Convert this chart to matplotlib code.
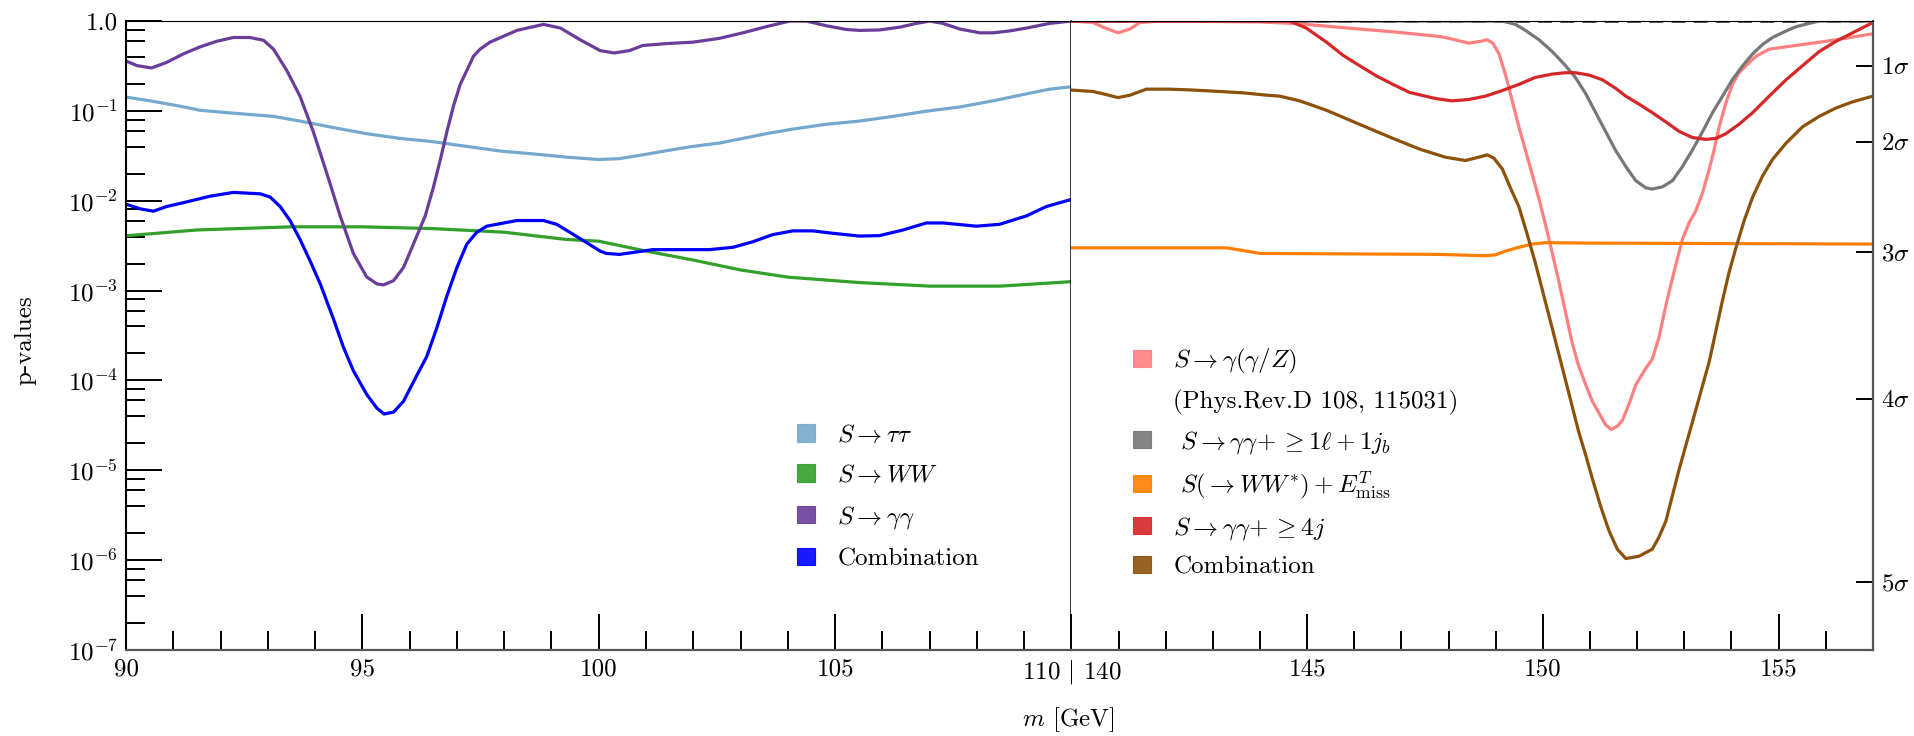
import numpy as np
import matplotlib
matplotlib.use("Agg")
import matplotlib.pyplot as plt
from matplotlib.patches import Patch
from matplotlib.ticker import LogLocator, NullLocator

plt.rcParams["font.family"] = "serif"
plt.rcParams["font.serif"] = ["cmr10"]
plt.rcParams["mathtext.fontset"] = "cm"
plt.rcParams["axes.unicode_minus"] = False
plt.rcParams["axes.formatter.use_mathtext"] = True

# values are log10(p-value)

# ---- low-mass window (90-110 GeV) ----
tautau_m = [90.0, 90.51, 91.07, 91.57, 92.13, 92.62, 93.12, 93.68, 94.39, 95.09, 95.80,
            96.50, 97.21, 97.92, 98.62, 99.33, 100.0, 100.44, 100.93, 101.50, 101.99,
            102.55, 103.05, 103.54, 104.11, 104.81, 105.52, 106.22, 106.93, 107.64, 108.34,
            109.05, 109.54, 110.0]
tautau_lp = [-0.846, -0.888, -0.940, -0.993, -1.019, -1.040, -1.061, -1.113, -1.186, -1.254,
             -1.306, -1.343, -1.395, -1.447, -1.479, -1.515, -1.541, -1.531, -1.489, -1.437,
             -1.395, -1.358, -1.306, -1.254, -1.202, -1.149, -1.113, -1.061, -1.003, -0.956,
             -0.888, -0.810, -0.758, -0.731]

ww_m = [90.0, 91.5, 93.5, 95.0, 96.5, 98.0, 99.3, 100.0, 101.0, 102.0, 103.0, 104.0,
        105.5, 107.0, 108.5, 110.0]
ww_lp = [-2.39, -2.325, -2.29, -2.29, -2.31, -2.35, -2.43, -2.45, -2.56, -2.66, -2.77,
         -2.85, -2.91, -2.95, -2.95, -2.90]

gg_m = [90.00, 90.23, 90.54, 90.86, 91.21, 91.57, 91.92, 92.27, 92.62, 92.91, 93.12, 93.40,
        93.68, 93.96, 94.25, 94.53, 94.81, 95.09, 95.31, 95.45, 95.66, 95.87, 96.08, 96.33,
        96.50, 96.65, 96.79, 96.93, 97.07, 97.21, 97.35, 97.49, 97.70, 98.27, 98.83, 99.19,
        99.61, 100.03, 100.33, 100.65, 100.93, 101.43, 101.99, 102.55, 103.05, 103.54,
        104.04, 104.39, 104.81, 105.24, 105.52, 105.94, 106.37, 106.72, 107.0, 107.28,
        107.64, 108.06, 108.34, 108.69, 109.05, 109.54, 110.0]
gg_lp = [-0.444, -0.496, -0.522, -0.460, -0.366, -0.287, -0.225, -0.183, -0.183, -0.214,
         -0.313, -0.549, -0.836, -1.228, -1.698, -2.168, -2.586, -2.847, -2.926, -2.936,
         -2.889, -2.743, -2.482, -2.168, -1.855, -1.541, -1.228, -0.940, -0.705, -0.549,
         -0.392, -0.313, -0.235, -0.104, -0.037, -0.078, -0.209, -0.329, -0.355, -0.329,
         -0.272, -0.251, -0.235, -0.193, -0.131, -0.063, 0.0, 0.0, -0.052, -0.094, -0.104,
         -0.099, -0.068, -0.026, 0.0, -0.026, -0.089, -0.131, -0.131, -0.110, -0.078,
         -0.026, 0.0]

comb_lo_m = [90.00, 90.30, 90.58, 90.86, 91.21, 91.78, 92.27, 92.84, 93.05, 93.26, 93.47,
             93.68, 93.89, 94.11, 94.39, 94.60, 94.81, 95.09, 95.31, 95.46, 95.66, 95.87,
             96.15, 96.36, 96.57, 96.79, 97.00, 97.21, 97.42, 97.63, 98.27, 98.83, 99.11,
             99.47, 100.03, 100.16, 100.44, 100.79, 101.14, 102.34, 102.84, 103.26, 103.68,
             104.11, 104.53, 104.95, 105.52, 105.94, 106.44, 106.93, 107.28, 107.99, 108.48,
             109.05, 109.47, 110.0]
comb_lo_lp = [-2.038, -2.090, -2.116, -2.064, -2.022, -1.949, -1.907, -1.923, -1.959,
              -2.064, -2.220, -2.429, -2.665, -2.926, -3.318, -3.631, -3.892, -4.154, -4.310,
              -4.373, -4.352, -4.232, -3.945, -3.736, -3.422, -3.056, -2.743, -2.482, -2.351,
              -2.283, -2.220, -2.220, -2.262, -2.377, -2.560, -2.586, -2.597, -2.571, -2.544,
              -2.544, -2.518, -2.456, -2.377, -2.335, -2.335, -2.362, -2.393, -2.388, -2.325,
              -2.247, -2.247, -2.283, -2.262, -2.168, -2.064, -1.985]

# ---- high-mass window (140-157 GeV) ----
gz_m = [140.0, 140.46, 140.67, 140.99, 141.24, 141.45, 141.88, 143.99, 144.70, 145.41,
        146.11, 146.82, 147.81, 147.93, 148.43, 148.68, 148.82, 148.94, 149.07, 149.21,
        149.35, 149.49, 149.63, 149.77, 149.92, 150.06, 150.20, 150.34, 150.48, 150.62,
        150.76, 150.91, 151.05, 151.19, 151.33, 151.45, 151.58, 151.69, 151.83, 151.97,
        152.15, 152.32, 152.46, 152.61, 152.78, 152.96, 153.10, 153.24, 153.39, 153.53,
        153.63, 153.74, 153.88, 154.02, 154.16, 154.31, 154.52, 154.80, 155.51, 156.22, 157.0]
gz_lp = [0.0, -0.016, -0.068, -0.131, -0.089, -0.016, 0.0, -0.010, -0.026, -0.057, -0.089,
         -0.120, -0.172, -0.183, -0.246, -0.225, -0.209, -0.246, -0.366, -0.601, -0.888,
         -1.176, -1.437, -1.698, -1.985, -2.273, -2.586, -2.900, -3.239, -3.579, -3.840,
         -4.049, -4.232, -4.363, -4.493, -4.545, -4.509, -4.441, -4.258, -4.049, -3.892,
         -3.762, -3.527, -3.161, -2.795, -2.429, -2.247, -2.116, -1.907, -1.646, -1.437,
         -1.176, -0.914, -0.705, -0.575, -0.496, -0.392, -0.313, -0.261, -0.209, -0.141]

lb_m = [140.0, 149.14, 149.42, 149.63, 149.92, 150.20, 150.48, 150.69, 150.91, 151.12,
        151.33, 151.54, 151.76, 151.97, 152.18, 152.32, 152.54, 152.75, 152.96, 153.17,
        153.39, 153.60, 153.81, 154.02, 154.24, 154.45, 154.66, 154.87, 155.16, 155.37,
        155.65, 155.86, 157.0]
lb_lp = [0.0, 0.0, -0.037, -0.104, -0.209, -0.340, -0.496, -0.627, -0.810, -1.019, -1.228,
         -1.437, -1.620, -1.776, -1.855, -1.870, -1.844, -1.776, -1.620, -1.437, -1.228,
         -1.019, -0.836, -0.653, -0.496, -0.366, -0.261, -0.183, -0.110, -0.063, -0.026,
         0.0, 0.0]

met_m = [140.0, 143.29, 143.71, 144.0, 147.81, 148.78, 148.99, 149.21, 149.49, 149.77,
         150.06, 150.91, 157.0]
met_lp = [-2.524, -2.524, -2.560, -2.586, -2.597, -2.612, -2.602, -2.560, -2.518, -2.482,
          -2.466, -2.471, -2.482]

j4_m = [140.0, 144.63, 144.98, 145.41, 145.76, 146.11, 146.47, 146.82, 147.17, 147.72,
        148.07, 148.43, 148.78, 149.14, 149.49, 149.84, 150.20, 150.48, 150.69, 150.98,
        151.26, 151.54, 151.76, 152.04, 152.32, 152.61, 152.89, 153.17, 153.46, 153.67,
        153.88, 154.16, 154.45, 154.80, 155.16, 155.51, 155.86, 156.22, 156.57, 157.0]
j4_lp = [0.0, 0.0, -0.078, -0.235, -0.381, -0.496, -0.611, -0.705, -0.794, -0.862, -0.888,
         -0.873, -0.836, -0.773, -0.705, -0.627, -0.590, -0.575, -0.575, -0.601, -0.653,
         -0.747, -0.836, -0.925, -1.019, -1.123, -1.228, -1.296, -1.317, -1.306, -1.254,
         -1.149, -1.019, -0.836, -0.653, -0.496, -0.340, -0.225, -0.131, -0.016]

comb_hi_m = [140.0, 140.46, 140.75, 140.99, 141.24, 141.59, 142.09, 142.58, 143.15, 143.64,
             144.14, 144.42, 144.84, 145.41, 146.11, 146.82, 147.39, 147.93, 148.36, 148.64,
             148.82, 148.96, 149.14, 149.31, 149.49, 149.67, 149.84, 150.02, 150.20, 150.34,
             150.48, 150.62, 150.76, 150.91, 151.05, 151.23, 151.40, 151.58, 151.76, 152.04,
             152.32, 152.46, 152.61, 152.75, 152.89, 153.03, 153.17, 153.35, 153.53, 153.67,
             153.81, 153.95, 154.09, 154.27, 154.45, 154.66, 154.87, 155.16, 155.51, 155.86,
             156.22, 156.57, 157.0]
comb_hi_lp = [-0.768, -0.784, -0.820, -0.852, -0.825, -0.758, -0.758, -0.768, -0.784,
              -0.799, -0.825, -0.836, -0.888, -0.993, -1.149, -1.306, -1.426, -1.515, -1.552,
              -1.515, -1.489, -1.526, -1.646, -1.855, -2.064, -2.377, -2.691, -3.056, -3.422,
              -3.710, -3.997, -4.284, -4.572, -4.833, -5.094, -5.408, -5.669, -5.878, -5.982,
              -5.956, -5.878, -5.747, -5.564, -5.277, -4.990, -4.728, -4.467, -4.127, -3.788,
              -3.448, -3.109, -2.795, -2.534, -2.220, -1.959, -1.724, -1.541, -1.358, -1.176,
              -1.061, -0.967, -0.899, -0.836]

ytick_vals = [1.0, 1e-1, 1e-2, 1e-3, 1e-4, 1e-5, 1e-6, 1e-7]
ytick_labels = ["1.0", r"$10^{-1}$", r"$10^{-2}$", r"$10^{-3}$", r"$10^{-4}$",
                r"$10^{-5}$", r"$10^{-6}$", r"$10^{-7}$"]
sigma_p = [0.3173, 0.0455, 0.0027, 6.3e-5, 5.7e-7]
sigma_labels = [r"$1\sigma$", r"$2\sigma$", r"$3\sigma$", r"$4\sigma$", r"$5\sigma$"]

lo_series = [
    (tautau_m, tautau_lp, "#74a9cf", r"$S\rightarrow\tau\tau$"),
    (ww_m, ww_lp, "#33a02c", r"$S\rightarrow WW$"),
    (gg_m, gg_lp, "#6a3d9a", r"$S\rightarrow\gamma\gamma$"),
    (comb_lo_m, comb_lo_lp, "#0000ff", "Combination"),
]
hi_series = [
    (gz_m, gz_lp, "#ff8080", r"$S\rightarrow\gamma(\gamma/Z)$"),
    (lb_m, lb_lp, "#777777", r"$\ S\rightarrow\gamma\gamma\!+\geq 1\ell+1j_b$"),
    (met_m, met_lp, "#ff7f00", r"$\ S(\rightarrow WW^{*})+E^{T}_{\mathrm{miss}}$"),
    (j4_m, j4_lp, "#d62728", r"$S\rightarrow\gamma\gamma\!+\geq 4j$"),
    (comb_hi_m, comb_hi_lp, "#8c510a", "Combination"),
]

fig = plt.figure(figsize=(19.15, 7.36), dpi=100)
axl = fig.add_axes([0.0658, 0.1168, 0.4937, 0.8546])
axr = fig.add_axes([0.5595, 0.1168, 0.4185, 0.8546])

for ax in (axl, axr):
    ax.set_yscale("log")
    ax.set_ylim(1e-7, 1.0)
    ax.spines["top"].set_linewidth(0.8)
    ax.spines["bottom"].set_color("#555555")
    ax.spines["bottom"].set_linewidth(1.6)

axl.set_xlim(90, 110)
axr.set_xlim(140, 157)

axr.axhline(1.0, color="#444444", lw=2, ls=(0, (5, 3)), zorder=1.5)

for m, lp, c, lab in lo_series:
    axl.plot(m, 10 ** np.array(lp), color=c, lw=2.3, solid_joinstyle="round")
for m, lp, c, lab in hi_series:
    axr.plot(m, 10 ** np.array(lp), color=c, lw=2.3, solid_joinstyle="round")

# left panel axes
axl.spines["left"].set_linewidth(1.5)
axl.spines["right"].set_linewidth(1.1)
axl.spines["right"].set_color("black")
axl.set_yticks(ytick_vals)
axl.set_yticklabels(ytick_labels)
axl.yaxis.set_minor_locator(LogLocator(base=10, subs=(2.0, 4.0, 6.0, 8.0), numticks=20))
axl.set_xticks([90, 95, 100, 105, 110])
axl.set_xticklabels(["90", "95", "100", "105", r"110 $|$ 140"])
axl.set_xticks(range(91, 110), minor=True)
axl.tick_params(which="both", direction="in", width=1.4, color="k", labelsize=18,
                right=False, top=False)
axl.tick_params(which="major", length=26, pad=6)
axl.tick_params(which="minor", length=13.5)

# right panel axes
axr.spines["left"].set_visible(False)
axr.spines["right"].set_color("#555555")
axr.spines["right"].set_linewidth(1.6)
axr.yaxis.set_ticks_position("right")
axr.set_yticks(sigma_p)
axr.set_yticklabels(sigma_labels)
axr.yaxis.set_minor_locator(NullLocator())
axr.set_xticks([140, 145, 150, 155])
axr.set_xticklabels(["", "145", "150", "155"])
axr.set_xticks([t for t in range(141, 158) if t % 5 != 0], minor=True)
axr.tick_params(which="both", direction="in", width=1.4, color="k", labelsize=18,
                top=False, left=False)
axr.tick_params(axis="x", which="major", length=26, pad=6)
axr.tick_params(axis="x", which="minor", length=13.5)
axr.tick_params(axis="y", which="major", length=12, pad=6)


def square(c):
    return Patch(facecolor=c, edgecolor=c, linewidth=0.8, alpha=0.9)


axl.legend([square(c) for _, _, c, _ in lo_series],
           [lab for _, _, _, lab in lo_series],
           loc="upper left", bbox_to_anchor=(0.71, 0.36), frameon=False,
           fontsize=18, handlelength=0.7, handleheight=0.7, handletextpad=0.9,
           labelspacing=0.68, borderpad=0, borderaxespad=0)

hi_handles = [square(hi_series[0][2]), Patch(alpha=0)] + [square(c) for _, _, c, _ in hi_series[1:]]
hi_labels = [hi_series[0][3], "(Phys.Rev.D 108, 115031)"] + [lab for _, _, _, lab in hi_series[1:]]
axr.legend(hi_handles, hi_labels,
           loc="upper left", bbox_to_anchor=(0.077, 0.482), frameon=False,
           fontsize=18, handlelength=0.7, handleheight=0.7, handletextpad=0.9,
           labelspacing=0.55, borderpad=0, borderaxespad=0)

fig.text(1068 / 1915, 1 - 720 / 736, r"$m$ [GeV]", ha="center", va="center", fontsize=18)
fig.text(25 / 1915, 1 - 340 / 736, "p-values", rotation=90, ha="center", va="center",
         fontsize=18)

fig.savefig("out.png", dpi=100)
